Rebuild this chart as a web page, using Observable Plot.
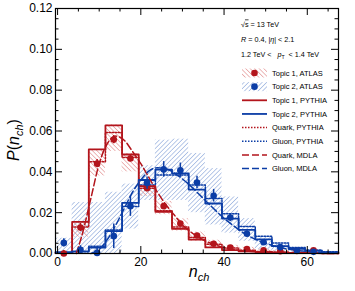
<!DOCTYPE html>
<html><head><meta charset="utf-8">
<script src="https://cdn.jsdelivr.net/npm/d3@7"></script>
<script src="https://cdn.jsdelivr.net/npm/@observablehq/plot@0.6"></script>
<style>body{margin:0;background:#fff} svg{display:block}</style>
</head><body><div id="chart"></div>
<script>
// bin centres (bin width 4)
const binCenters = [1.5,5.5,9.5,13.5,17.5,21.5,25.5,29.5,33.5,37.5,41.5,45.5,49.5,53.5,57.5,61.5,65.5];
// ATLAS topic points (bins 1.5 .. 61.5)
const topic1Atlas = [0.0, 0.0127, 0.044, 0.0558, 0.0465, 0.032, 0.0232, 0.0147, 0.0088, 0.0048, 0.0029, 0.0022, 0.0016, 0.0011, 0.0012, 0.0016];
const topic1Err   = [0.0015, 0.002, 0.002, 0.002, 0.0015, 0.0015, 0.0012, 0.001, 0.0008, 0.0006, 0.0005, 0.0005, 0.0004, 0.0004, 0.0004, 0.0004];
const topic2Atlas = [0.0052, 0.0018, 0.0003, 0.0085, 0.0232, 0.0345, 0.0412, 0.0408, 0.0348, 0.0283, 0.0176, 0.0097, 0.0055, 0.0031, 0.0015, 0.0008];
const topic2Err   = [0.002, 0.002, 0.003, 0.006, 0.005, 0.003, 0.0038, 0.0035, 0.003, 0.0031, 0.002, 0.0015, 0.001, 0.0008, 0.0006, 0.0005];
// ATLAS systematic bands (all 17 bins)
const topic1BandLo = [0, 0.008, 0.038, 0.050, 0.040, 0.028, 0.019, 0.011, 0.006, 0.003, 0.0015, 0.001, 0.0005, 0.0002, 0.0002, 0.0002, 0];
const topic1BandHi = [0.001, 0.0155, 0.051, 0.063, 0.049, 0.034, 0.0255, 0.017, 0.0105, 0.0065, 0.004, 0.003, 0.002, 0.0015, 0.0015, 0.0015, 0.001];
const topic2BandLo = [0, 0, 0, 0, 0.012, 0.026, 0.026, 0.026, 0.020, 0.014, 0.010, 0.006, 0.002, 0.001, 0.0005, 0, 0];
const topic2BandHi = [0.0075, 0.025, 0.025, 0.030, 0.034, 0.043, 0.0555, 0.056, 0.049, 0.0416, 0.0277, 0.0171, 0.0081, 0.0049, 0.003, 0.0015, 0.001];
// PYTHIA histograms
const topic1Pythia = [0.0003, 0.0155, 0.051, 0.0628, 0.0485, 0.033, 0.0204, 0.0121, 0.0068, 0.003, 0.0017, 0.0011, 0.0007, 0.0005, 0.0003, 0.0002, 0.0001];
const topic2Pythia = [0.0007, 0.001, 0.0029, 0.011, 0.0248, 0.036, 0.0411, 0.0392, 0.0313, 0.0245, 0.0171, 0.0116, 0.0069, 0.0036, 0.0023, 0.0013, 0.0006];
const quarkPythia  = [0.0003, 0.013, 0.045, 0.0593, 0.047, 0.032, 0.021, 0.013, 0.0078, 0.0045, 0.0027, 0.0016, 0.001, 0.0006, 0.0004, 0.0002, 0.0001];
const gluonPythia  = [0.0002, 0.0008, 0.0035, 0.0115, 0.023, 0.0335, 0.0385, 0.0385, 0.0335, 0.027, 0.0195, 0.0132, 0.0085, 0.0052, 0.003, 0.0017, 0.0009];
// MDLA curves
const quarkMdlaN = [4.5, 6, 8, 10, 12, 14, 16, 18, 20, 22, 24, 26, 28, 30, 32, 34, 36, 38, 40, 44, 48, 52, 56, 60, 67.5];
const quarkMdlaP = [0, 0.010, 0.027, 0.044, 0.054, 0.0575, 0.0555, 0.050, 0.044, 0.037, 0.030, 0.024, 0.019, 0.014, 0.0105, 0.0078, 0.0057, 0.0041, 0.0029, 0.0014, 0.0007, 0.0003, 0.00015, 0.0001, 0];
const gluonMdlaN = [8, 10, 12, 14, 16, 18, 20, 22, 24, 26, 28, 30, 32, 34, 36, 38, 40, 42, 44, 46, 48, 50, 52, 54, 56, 58, 60, 64, 67.5];
const gluonMdlaP = [0, 0.002, 0.007, 0.014, 0.022, 0.030, 0.036, 0.0405, 0.042, 0.0415, 0.0395, 0.0365, 0.033, 0.029, 0.025, 0.021, 0.0172, 0.014, 0.011, 0.0085, 0.0065, 0.005, 0.0037, 0.0027, 0.002, 0.0014, 0.001, 0.0005, 0.0003];
// axis ticks
const xMajor = [0, 20, 40, 60];
const xMinor = [5, 10, 15, 25, 30, 35, 45, 50, 55, 65];
const yMajor = [0, 0.02, 0.04, 0.06, 0.08, 0.10, 0.12];
const yMinor = [0.005,0.01,0.015,0.025,0.03,0.035,0.045,0.05,0.055,0.065,0.07,0.075,0.085,0.09,0.095,0.105,0.11,0.115];

const RED = "#b3151c", BLUE = "#0b3da6";
const W = 355, H = 291, ML = 55, MR = 17, MT = 8, MB = 38;
const FW = W - ML - MR, FH = H - MT - MB;

const steps = vals => vals.map((v, i) => ({x: binCenters[i] - 2, y: v}))
  .concat([{x: binCenters[vals.length - 1] + 2, y: vals[vals.length - 1]}]);
const pts = (vals, errs) => vals.map((v, i) => ({x: binCenters[i], y: v, lo: Math.max(0, v - errs[i]), hi: v + errs[i]}));
const band = (lo, hi) => lo.map((l, i) => ({x1: binCenters[i] - 2, x2: binCenters[i] + 2, y1: l, y2: hi[i]}));
const curve = (n, p) => n.map((x, i) => ({x, y: p[i]}));

const chart = Plot.plot({
  width: W, height: H,
  marginLeft: ML, marginRight: MR, marginTop: MT, marginBottom: MB,
  style: {fontFamily: "'Liberation Sans', Arial, sans-serif", background: "white"},
  x: {domain: [-0.5, 67.5]},
  y: {domain: [0, 0.12]},
  marks: [
    Plot.rect(band(topic2BandLo, topic2BandHi), {x1: "x1", x2: "x2", y1: "y1", y2: "y2", fill: "url(#hatchBlue)"}),
    Plot.rect(band(topic1BandLo, topic1BandHi), {x1: "x1", x2: "x2", y1: "y1", y2: "y2", fill: "url(#hatchRed)"}),
    Plot.line(steps(quarkPythia), {x: "x", y: "y", curve: "step-after", stroke: RED, strokeWidth: 1.5, strokeDasharray: "1.5,1.5"}),
    Plot.line(steps(gluonPythia), {x: "x", y: "y", curve: "step-after", stroke: BLUE, strokeWidth: 1.5, strokeDasharray: "1.5,1.5"}),
    Plot.line(steps(topic1Pythia), {x: "x", y: "y", curve: "step-after", stroke: RED, strokeWidth: 1.8}),
    Plot.line(steps(topic2Pythia), {x: "x", y: "y", curve: "step-after", stroke: BLUE, strokeWidth: 1.8}),
    Plot.line(curve(quarkMdlaN, quarkMdlaP), {x: "x", y: "y", curve: "monotone-x", stroke: RED, strokeWidth: 1.5, strokeDasharray: "7,3"}),
    Plot.line(curve(gluonMdlaN, gluonMdlaP), {x: "x", y: "y", curve: "monotone-x", stroke: BLUE, strokeWidth: 1.5, strokeDasharray: "7,3"}),
    Plot.ruleX(pts(topic1Atlas, topic1Err), {x: "x", y1: "lo", y2: "hi", stroke: RED, strokeWidth: 1.5}),
    Plot.dot(pts(topic1Atlas, topic1Err), {x: "x", y: "y", r: 3.3, fill: RED}),
    Plot.ruleX(pts(topic2Atlas, topic2Err), {x: "x", y1: "lo", y2: "hi", stroke: BLUE, strokeWidth: 1.5}),
    Plot.dot(pts(topic2Atlas, topic2Err), {x: "x", y: "y", r: 3.3, fill: BLUE}),
    // inward ticks on four sides
    Plot.tickY(yMajor, {y: d => d, insetRight: FW - 7, stroke: "black"}),
    Plot.tickY(yMinor, {y: d => d, insetRight: FW - 3.5, stroke: "black"}),
    Plot.tickY(yMajor, {y: d => d, insetLeft: FW - 7, stroke: "black"}),
    Plot.tickY(yMinor, {y: d => d, insetLeft: FW - 3.5, stroke: "black"}),
    Plot.tickX(xMajor, {x: d => d, insetTop: FH - 7, stroke: "black"}),
    Plot.tickX(xMinor, {x: d => d, insetTop: FH - 3.5, stroke: "black"}),
    Plot.tickX(xMajor, {x: d => d, insetBottom: FH - 7, stroke: "black"}),
    Plot.tickX(xMinor, {x: d => d, insetBottom: FH - 3.5, stroke: "black"}),
    Plot.frame({stroke: "black", strokeWidth: 1.2}),
    Plot.axisX({ticks: xMajor, tickSize: 0, tickPadding: 4, fontSize: 12, label: null}),
    Plot.axisY({ticks: yMajor, tickFormat: d3.format(".2f"), tickSize: 0, tickPadding: 3, fontSize: 12, label: null})
  ]
});

document.getElementById("chart").appendChild(chart);
const svg = d3.select(chart);
svg.insert("defs", ":first-child").html(`
  <pattern id="hatchBlue" patternUnits="userSpaceOnUse" width="3.2" height="3.2" patternTransform="rotate(45)">
    <line x1="0" y1="0" x2="0" y2="3.2" stroke="#7e9dd6" stroke-width="1.1"/></pattern>
  <pattern id="hatchRed" patternUnits="userSpaceOnUse" width="3.2" height="3.2" patternTransform="rotate(-45)">
    <line x1="0" y1="0" x2="0" y2="3.2" stroke="#df8080" stroke-width="1.1"/></pattern>`);

const F = "'Liberation Sans', Arial, sans-serif";
// axis titles
const xt = svg.append("text").attr("x", 199).attr("y", 277).attr("text-anchor", "middle")
  .attr("font-family", F).attr("font-size", 16).attr("font-style", "italic");
xt.append("tspan").text("n");
xt.append("tspan").attr("font-size", 11).attr("dy", 4).text("ch");
const yt = svg.append("text").attr("transform", "translate(19,140) rotate(-90)").attr("text-anchor", "middle")
  .attr("font-family", F).attr("font-size", 16);
yt.append("tspan").attr("font-style", "italic").text("P");
yt.append("tspan").text("(");
yt.append("tspan").attr("font-style", "italic").text("n");
yt.append("tspan").attr("font-style", "italic").attr("font-size", 11).attr("dy", 4).text("ch");
yt.append("tspan").attr("dy", -4).text(")");

// header text
const hx = 241;
const hdr = y => svg.append("text").attr("x", hx).attr("y", y).attr("dy", "0.35em").attr("text-anchor", "start")
  .attr("font-family", F).attr("font-size", 7.2);
const h1 = hdr(24);
h1.append("tspan").text("√");
h1.append("tspan").attr("text-decoration", "overline").text("s");
h1.append("tspan").text(" = 13 TeV");
const h2 = hdr(39);
h2.append("tspan").attr("font-style", "italic").text("R");
h2.append("tspan").text(" = 0.4, |");
h2.append("tspan").attr("font-style", "italic").text("η");
h2.append("tspan").text("| < 2.1");
const h3 = hdr(54).attr("xml:space", "preserve");
h3.append("tspan").text("1.2 TeV <   ");
h3.append("tspan").attr("font-style", "italic").text("p");
h3.append("tspan").attr("font-size", 5.2).attr("dy", 2).text("T");
h3.append("tspan").attr("dy", -2).text("  < 1.4 TeV");

// legend
const legend = [
  {label: "Topic 1, ATLAS", color: RED, kind: "atlas", pat: "hatchRed"},
  {label: "Topic 2, ATLAS", color: BLUE, kind: "atlas", pat: "hatchBlue"},
  {label: "Topic 1, PYTHIA", color: RED, kind: "solid"},
  {label: "Topic 2, PYTHIA", color: BLUE, kind: "solid"},
  {label: "Quark, PYTHIA", color: RED, kind: "dot"},
  {label: "Gluon, PYTHIA", color: BLUE, kind: "dot"},
  {label: "Quark, MDLA", color: RED, kind: "dash"},
  {label: "Gluon, MDLA", color: BLUE, kind: "dash"}
];
const lx0 = 242, lx1 = 267, ltx = 272;
legend.forEach((d, i) => {
  const y = 73 + i * 13.65;
  const g = svg.append("g");
  if (d.kind === "atlas") {
    g.append("rect").attr("x", lx0).attr("y", y - 4.5).attr("width", lx1 - lx0).attr("height", 9).attr("fill", `url(#${d.pat})`);
    g.append("circle").attr("cx", (lx0 + lx1) / 2).attr("cy", y).attr("r", 3.3).attr("fill", d.color);
  } else {
    g.append("line").attr("x1", lx0).attr("x2", lx1).attr("y1", y).attr("y2", y).attr("stroke", d.color)
      .attr("stroke-width", d.kind === "solid" ? 1.8 : 1.5)
      .attr("stroke-dasharray", d.kind === "dot" ? "1.5,1.5" : d.kind === "dash" ? "7,3" : null);
  }
  g.append("text").attr("x", ltx).attr("y", y).attr("dy", "0.35em").attr("text-anchor", "start")
    .attr("font-family", F).attr("font-size", 7.5).text(d.label);
});
</script></body></html>
